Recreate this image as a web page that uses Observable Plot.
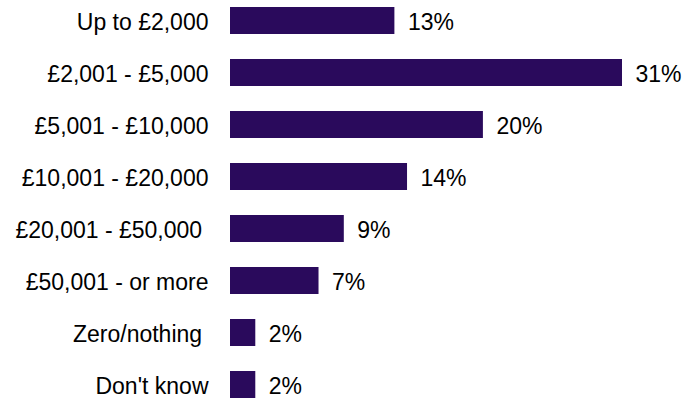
<!DOCTYPE html>
<html>
<head>
<meta charset="utf-8">
<script src="https://cdn.jsdelivr.net/npm/d3@7"></script>
<script src="https://cdn.jsdelivr.net/npm/@observablehq/plot@0.6"></script>
<style>
  html, body { margin: 0; padding: 0; background: #fff; }
  #chart { width: 688px; height: 398px; }
</style>
</head>
<body>
<div id="chart"></div>
<script>
const categories = [
  "Up to £2,000",
  "£2,001 - £5,000",
  "£5,001 - £10,000",
  "£10,001 - £20,000",
  "£20,001 - £50,000\u00a0",
  "£50,001 - or more",
  "Zero/nothing\u00a0",
  "Don't know"
];
const values = [13, 31, 20, 14, 9, 7, 2, 2];
const valueLabels = ["13%", "31%", "20%", "14%", "9%", "7%", "2%", "2%"];

const data = categories.map((c, i) => ({ category: c, value: values[i], label: valueLabels[i] }));

const chart = Plot.plot({
  width: 688,
  height: 398,
  marginLeft: 230,
  marginRight: 66,
  marginTop: 6,
  marginBottom: 0,
  style: { fontFamily: "'Liberation Sans', Arial, sans-serif", fontSize: "23px", color: "#000", background: "#fff" },
  x: { domain: [0, 31], axis: null },
  y: { domain: categories, paddingInner: 0.49, paddingOuter: 0, align: 0.5, label: null },
  marks: [
    Plot.axisY({ tickSize: 0, tickPadding: 22, fontSize: 23, dy: 1.5, label: null, fill: "#000" }),
    Plot.barX(data, { x: "value", y: "category", fill: "#2a0a5c" }),
    Plot.text(data, { x: "value", y: "category", text: "label", textAnchor: "start", dx: 13, dy: 1.5, fontSize: 23, fill: "#000" })
  ]
});
document.getElementById("chart").appendChild(chart);
</script>
</body>
</html>
